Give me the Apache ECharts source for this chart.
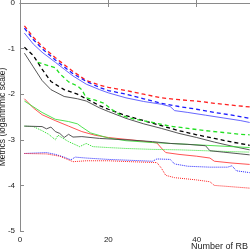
<!DOCTYPE html>
<html>
<head>
<meta charset="utf-8">
<script src="https://cdn.jsdelivr.net/npm/echarts@6/dist/echarts.min.js"></script>
<style>
  html, body { margin: 0; padding: 0; background: #fff; }
  #chart { width: 250px; height: 250px; }
</style>
</head>
<body>
<div id="chart"></div>
<script>
// x values (Number of RB) and metric values (log scale)
const redDashX = [1, 3, 5, 8, 10, 12, 15, 18, 20, 24, 28, 32, 36, 40, 44, 48, 52]
const redDashY = [-0.5, -0.75, -0.95, -1.2, -1.35, -1.5, -1.7, -1.8, -1.85, -1.92, -2.0, -2.08, -2.12, -2.15, -2.2, -2.24, -2.28]

const blueDashX = [1, 3, 5, 8, 10, 12, 15, 18, 20, 24, 28, 30, 32, 36, 40, 44, 48, 52]
const blueDashY = [-0.55, -0.8, -1.0, -1.25, -1.4, -1.55, -1.72, -1.85, -1.92, -2.0, -2.1, -2.15, -2.2, -2.27, -2.33, -2.4, -2.46, -2.53]

const blueSolidX = [1, 3, 5, 8, 10, 12, 15, 18, 20, 24, 28, 32, 34, 35, 38, 42, 46, 50, 52]
const blueSolidY = [-0.66, -0.9, -1.08, -1.3, -1.45, -1.6, -1.78, -1.9, -1.97, -2.08, -2.16, -2.22, -2.27, -2.36, -2.4, -2.46, -2.52, -2.58, -2.62]

const blackDashX = [1, 3, 5, 7, 10, 13, 15, 18, 20, 24, 28, 32, 36, 40, 44, 48, 52]
const blackDashY = [-0.97, -1.15, -1.45, -1.72, -1.9, -2.0, -2.1, -2.25, -2.33, -2.47, -2.58, -2.69, -2.8, -2.89, -2.97, -3.05, -3.12]

const blackSolidX = [1, 3, 5, 7, 10, 13, 15, 18, 20, 24, 28, 32, 36, 40, 44, 48, 52]
const blackSolidY = [-1.1, -1.4, -1.7, -1.9, -2.05, -2.1, -2.15, -2.3, -2.38, -2.53, -2.65, -2.75, -2.86, -2.95, -3.05, -3.14, -3.22]

const greenDashX = [4, 6, 8, 9, 11, 13, 14, 15, 17, 19, 21, 23, 26, 30, 34, 38, 42, 46, 50, 52]
const greenDashY = [-1.3, -1.36, -1.42, -1.55, -1.73, -1.82, -1.9, -2.08, -2.13, -2.2, -2.35, -2.47, -2.55, -2.62, -2.7, -2.75, -2.8, -2.84, -2.88, -2.89]

const redSolidX = [1, 3, 5, 8, 11, 14, 17, 20, 24, 28, 31, 32, 33, 36, 40, 43, 44, 48, 52]
const redSolidY = [-2.1, -2.3, -2.45, -2.58, -2.7, -2.82, -2.9, -2.95, -2.99, -3.03, -3.07, -3.18, -3.28, -3.32, -3.36, -3.4, -3.47, -3.51, -3.54]

const greenSolidX = [1, 5, 8, 11, 13, 14, 16, 20, 24, 30, 36, 42, 48, 52]
const greenSolidY = [-2.15, -2.4, -2.55, -2.6, -2.65, -2.72, -2.85, -2.96, -3.02, -3.06, -3.09, -3.12, -3.15, -3.17]

const greenDotX = [1, 3, 5, 6.5, 8, 8.6, 11, 13.5, 15, 16.5, 20, 24, 30, 36, 42, 48, 52]
const greenDotY = [-2.7, -2.71, -2.8, -2.88, -3.0, -2.9, -3.04, -3.15, -3.08, -3.15, -3.17, -3.19, -3.21, -3.22, -3.24, -3.26, -3.27]

const blackLowX = [1, 5, 6, 7, 8, 9, 10, 11, 12, 14, 18, 24, 30, 34, 38, 42, 43, 46, 50, 52]
const blackLowY = [-2.7, -2.71, -2.76, -2.72, -2.82, -2.86, -2.95, -2.88, -2.94, -2.93, -2.97, -3.0, -3.04, -3.08, -3.1, -3.13, -3.24, -3.27, -3.31, -3.33]

const blueDotX = [1, 6, 8, 10, 11.5, 12.5, 15, 20, 25, 30, 31, 34, 35, 38, 43, 47, 48, 49, 52]
const blueDotY = [-3.3, -3.28, -3.32, -3.38, -3.44, -3.38, -3.4, -3.43, -3.45, -3.47, -3.42, -3.43, -3.53, -3.58, -3.6, -3.6, -3.57, -3.68, -3.72]

const redDotX = [1, 6, 9, 11, 12, 15, 20, 25, 31, 32, 33, 35, 40, 43, 44, 48, 52]
const redDotY = [-3.3, -3.31, -3.36, -3.44, -3.48, -3.46, -3.46, -3.48, -3.5, -3.62, -3.78, -3.83, -3.88, -3.92, -4.0, -4.03, -4.06]

const xTicks = [0, 20, 40, 60]
const yTicks = [0, -1, -2, -3, -4, -5]

const pairs = (xs, ys) => xs.map((x, i) => [x, ys[i]])

function line(xs, ys, color, type, width) {
  return {
    type: 'line',
    data: pairs(xs, ys),
    showSymbol: false,
    silent: true,
    animation: false,
    lineStyle: { color: color, type: type, width: width },
  }
}

const chart = echarts.init(document.getElementById('chart'))

const axisLine = { lineStyle: { color: '#8a8a8a', width: 1 } }
const axisTick = { inside: true, length: 4, lineStyle: { color: '#8a8a8a' } }
const axisLabel = { color: '#222', fontSize: 8, fontFamily: 'Liberation Sans' }

chart.setOption({
  grid: { left: 20, top: 3, right: -35, bottom: 19, outerBoundsMode: 'none', containLabel: false },
  xAxis: [
    {
      type: 'value', min: xTicks[0], max: xTicks[xTicks.length - 1], interval: 20,
      axisLine, axisTick, splitLine: { show: false },
      axisLabel: { ...axisLabel, margin: 5 },
    },
    {
      type: 'value', position: 'top', min: xTicks[0], max: xTicks[xTicks.length - 1], interval: 20,
      axisLine, axisTick, splitLine: { show: false }, axisLabel: { show: false },
    },
  ],
  yAxis: [
    {
      type: 'value', min: yTicks[yTicks.length - 1], max: yTicks[0], interval: 1,
      axisLine, axisTick, splitLine: { show: false },
      axisLabel: { ...axisLabel, margin: 5 },
      name: 'Metrics (logarithmic scale)', nameLocation: 'middle', nameGap: 13,
      nameMoveOverlap: false,
      nameTextStyle: { color: '#222', fontSize: 8.5, fontFamily: 'Liberation Sans' },
    },
  ],
  graphic: [
    {
      type: 'text', left: 191, top: 242,
      style: { text: 'Number of RB', fill: '#222', font: '9px Liberation Sans' },
    },
  ],
  series: [
    line(redDashX, redDashY, '#ff2020', [4, 3], 1.3),
    line(blueDashX, blueDashY, '#1a1aff', [4, 3], 1.3),
    line(blueSolidX, blueSolidY, '#5555ff', 'solid', 0.9),
    line(blackDashX, blackDashY, '#000', [4, 3], 1.3),
    line(blackSolidX, blackSolidY, '#444', 'solid', 0.9),
    line(greenDashX, greenDashY, '#22e022', [4, 3], 1.3),
    line(redSolidX, redSolidY, '#ff4040', 'solid', 0.9),
    line(greenSolidX, greenSolidY, '#40e040', 'solid', 0.9),
    line(greenDotX, greenDotY, '#22dd22', [1, 1], 1),
    line(blackLowX, blackLowY, '#444', 'solid', 0.9),
    line(blueDotX, blueDotY, '#2222ff', [1, 1], 1),
    line(redDotX, redDotY, '#ff2020', [1, 1], 1),
  ],
})
</script>
</body>
</html>
